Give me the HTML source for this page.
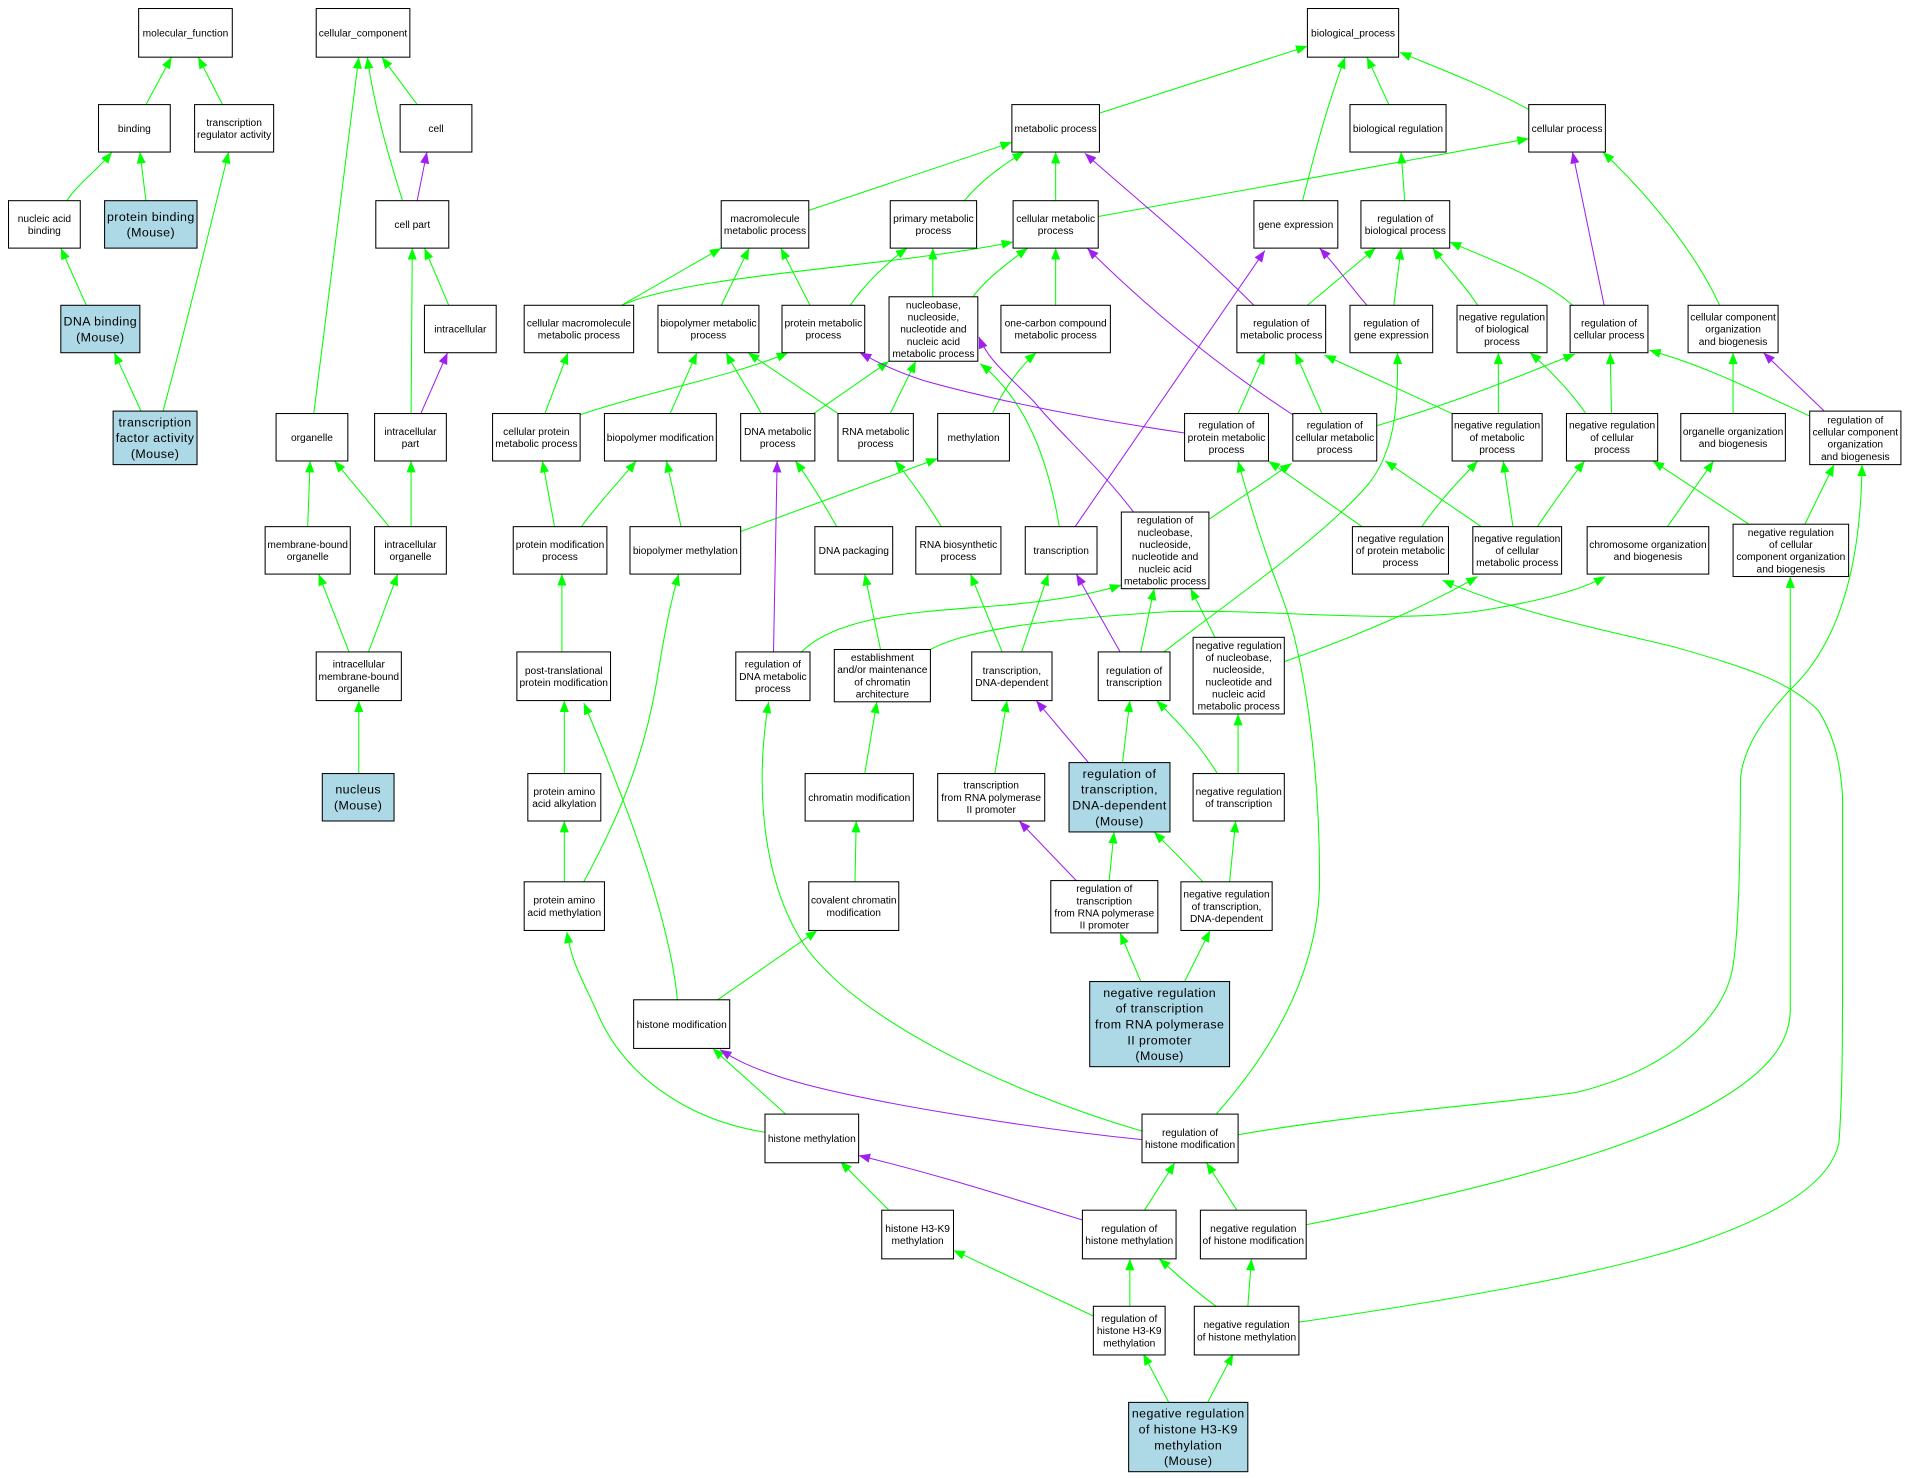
<!DOCTYPE html>
<html><head><meta charset="utf-8">
<style>
html,body{margin:0;padding:0;background:#fff;}
svg{display:block;}
.n rect{fill:#fff;stroke:#000;stroke-width:0.85;}
.n.b rect{fill:#add8e6;}
text{font-family:"Liberation Sans",Arial,sans-serif;font-size:8.4px;text-anchor:middle;fill:#000;}
.b text{font-size:10.2px;letter-spacing:0.35px;}
</style></head>
<body>
<svg width="1907" height="1479" viewBox="0 0 1568 1216" preserveAspectRatio="none" xmlns="http://www.w3.org/2000/svg">
<defs>
<marker id="ag" viewBox="0 0 10 8" refX="10" refY="4" markerWidth="10" markerHeight="7.5" markerUnits="userSpaceOnUse" orient="auto"><path d="M0,0L10,4L0,8z" fill="#00ff00"/></marker>
<marker id="ap" viewBox="0 0 10 8" refX="10" refY="4" markerWidth="10" markerHeight="7.5" markerUnits="userSpaceOnUse" orient="auto"><path d="M0,0L10,4L0,8z" fill="#a020f0"/></marker>
</defs>
<rect x="0" y="0" width="1568" height="1216" fill="#fff"/>
<g fill="none" stroke="#00ff00" stroke-width="0.85" marker-end="url(#ag)">
<path d="M120,86 L141,47"/>
<path d="M183,86 L163,47"/>
<path d="M55,165 C65,150 80,140 92,125"/>
<path d="M120,165 L115,125"/>
<path d="M71,251 L50,204"/>
<path d="M116,338 L94,290"/>
<path d="M134,338 C150,280 172,190 188,125"/>
<path d="M258,340 L295,47"/>
<path d="M331,165 C320,130 308,90 302,47"/>
<path d="M343,86 L314,47"/>
<path d="M338,340 L339,204"/>
<path d="M369,251 L349,204"/>
<path d="M253,433 L255,379"/>
<path d="M320,433 L275,379"/>
<path d="M338,433 L338,379"/>
<path d="M287,536 L262,472"/>
<path d="M303,536 L327,472"/>
<path d="M295,636 L295,576"/>
<path d="M904,93 L1075,38"/>
<path d="M1142,86 L1124,47"/>
<path d="M1257,90 C1220,70 1180,55 1151,43"/>
<path d="M1071,165 C1080,130 1090,90 1106,47"/>
<path d="M665,173 L832,117"/>
<path d="M793,165 C805,150 825,135 842,125"/>
<path d="M868,165 L868,125"/>
<path d="M903,178 L1257,114"/>
<path d="M1155,165 L1152,125"/>
<path d="M1414,251 C1395,210 1360,165 1318,125"/>
<path d="M511,251 L593,204"/>
<path d="M511,251 C570,225 730,220 833,199"/>
<path d="M593,251 L616,204"/>
<path d="M666,251 L642,204"/>
<path d="M699,251 C710,235 730,215 746,204"/>
<path d="M767,244 L767,204"/>
<path d="M800,244 C810,230 830,215 845,204"/>
<path d="M868,251 L868,204"/>
<path d="M1075,251 L1131,204"/>
<path d="M1146,251 L1152,204"/>
<path d="M1215,251 C1205,235 1190,220 1178,204"/>
<path d="M1293,251 C1270,230 1230,215 1192,199"/>
<path d="M477,341 C540,320 600,310 648,290"/>
<path d="M448,340 L467,290"/>
<path d="M551,340 L573,290"/>
<path d="M626,340 C615,320 605,305 597,290"/>
<path d="M689,340 L615,290"/>
<path d="M669,340 L731,297"/>
<path d="M732,340 L753,297"/>
<path d="M816,340 C825,320 840,300 852,290"/>
<path d="M871,433 C862,380 845,330 806,299"/>
<path d="M1018,340 L1040,290"/>
<path d="M1087,340 L1065,290"/>
<path d="M1194,340 L1089,292"/>
<path d="M1232,340 L1232,290"/>
<path d="M1132,350 C1200,330 1260,305 1295,291"/>
<path d="M1304,340 C1290,320 1270,300 1258,290"/>
<path d="M1325,340 L1324,290"/>
<path d="M1488,342 C1440,320 1400,300 1356,288"/>
<path d="M1425,340 L1425,290"/>
<path d="M957,536 C1010,495 1090,440 1126,397 C1145,372 1150,340 1149,290"/>
<path d="M456,433 L446,379"/>
<path d="M478,433 C495,410 510,395 523,379"/>
<path d="M560,433 L548,379"/>
<path d="M609,437 L771,377"/>
<path d="M688,433 C675,410 662,390 654,379"/>
<path d="M774,433 C760,410 745,390 736,379"/>
<path d="M1169,433 C1185,410 1200,395 1215,379"/>
<path d="M1120,433 L1043,379"/>
<path d="M1218,433 L1139,379"/>
<path d="M1244,433 L1236,379"/>
<path d="M1264,433 C1280,410 1290,395 1303,379"/>
<path d="M1371,433 L1409,379"/>
<path d="M1438,431 L1359,379"/>
<path d="M1484,431 L1508,382"/>
<path d="M994,427 L1062,381"/>
<path d="M462,536 L462,472"/>
<path d="M659,536 C690,505 760,503 820,498 C870,494 900,488 922,481"/>
<path d="M765,534 C800,515 880,508 960,503 C1050,500 1150,515 1230,500 C1270,493 1300,485 1320,474"/>
<path d="M724,534 L711,472"/>
<path d="M824,536 L798,472"/>
<path d="M840,536 L862,472"/>
<path d="M938,536 L949,484"/>
<path d="M999,524 L979,484"/>
<path d="M1056,544 C1110,525 1170,500 1215,474"/>
<path d="M711,636 L721,577"/>
<path d="M703,725 L704,675"/>
<path d="M818,636 L828,576"/>
<path d="M923,627 L929,576"/>
<path d="M1001,636 C985,610 965,590 951,576"/>
<path d="M1018,636 L1018,587"/>
<path d="M912,724 L916,684"/>
<path d="M989,725 C975,710 960,695 949,684"/>
<path d="M1011,725 L1016,675"/>
<path d="M938,807 L921,767"/>
<path d="M974,807 L995,765"/>
<path d="M590,822 L672,765"/>
<path d="M464,636 L464,576"/>
<path d="M464,725 L464,675"/>
<path d="M939,930 C820,895 700,835 660,775 C628,725 620,650 632,577"/>
<path d="M557,822 C552,770 528,690 480,578"/>
<path d="M629,931 C560,920 510,880 490,830 C476,800 470,790 466,766"/>
<path d="M480,725 C510,670 530,620 540,560 C548,510 553,490 558,472"/>
<path d="M1018,933 C1120,915 1240,907 1297,898 C1370,880 1415,840 1424,799 C1430,770 1431,700 1431,641 C1433,615 1450,590 1474,565 C1510,530 1530,470 1531,382"/>
<path d="M1068,1087 C1200,1068 1330,1045 1400,1020 C1470,995 1505,970 1512,940 C1515,900 1515,850 1515,805 L1515,655 C1513,620 1505,600 1495,584 C1470,560 1440,550 1377,532 C1320,518 1250,505 1186,477"/>
<path d="M1074,1007 C1200,982 1330,950 1400,912 C1450,885 1472,860 1472,830 L1472,474"/>
<path d="M1000,916 C1045,865 1085,800 1085,723 C1085,640 1075,540 1050,480 C1035,440 1025,405 1018,379"/>
<path d="M646,916 L586,862"/>
<path d="M731,995 L691,955"/>
<path d="M899,1082 L784,1028"/>
<path d="M929,1074 L929,1035"/>
<path d="M1000,1074 C980,1060 965,1045 953,1035"/>
<path d="M1026,1074 L1029,1035"/>
<path d="M941,995 L966,956"/>
<path d="M1017,995 L992,956"/>
<path d="M961,1153 L940,1113"/>
<path d="M993,1153 L1014,1113"/>
</g>
<g fill="none" stroke="#a020f0" stroke-width="0.85" marker-end="url(#ap)">
<path d="M343,165 L351,125"/>
<path d="M346,340 L368,290"/>
<path d="M1031,251 C980,200 930,160 892,126"/>
<path d="M1319,251 L1293,125"/>
<path d="M1063,341 C1000,300 940,250 894,204"/>
<path d="M1124,251 C1110,235 1100,220 1085,204"/>
<path d="M884,433 L1040,206"/>
<path d="M974,356 C900,345 820,330 760,313 C735,305 720,297 707,290"/>
<path d="M932,421 C905,385 870,355 850,330 C825,305 812,295 805,277"/>
<path d="M1500,338 L1450,290"/>
<path d="M636,536 L639,379"/>
<path d="M921,536 L885,472"/>
<path d="M895,627 L852,576"/>
<path d="M885,724 L838,675"/>
<path d="M939,937 C850,928 700,905 640,885 C610,875 600,868 592,863"/>
<path d="M890,1003 C840,988 780,968 706,950"/>
</g>

<g class="n"><rect x="114" y="7" width="77" height="40"/><text x="152.5" y="30">molecular_function</text></g>
<g class="n"><rect x="260" y="7" width="77" height="40"/><text x="298.5" y="30">cellular_component</text></g>
<g class="n"><rect x="1075" y="7" width="75" height="40"/><text x="1112.5" y="30">biological_process</text></g>
<g class="n"><rect x="81" y="86" width="59" height="39"/><text x="110.5" y="108.5">binding</text></g>
<g class="n"><rect x="160" y="86" width="65" height="39"/><text x="192.5" y="103.5">transcription</text><text x="192.5" y="113.5">regulator activity</text></g>
<g class="n"><rect x="329" y="86" width="59" height="39"/><text x="358.5" y="108.5">cell</text></g>
<g class="n"><rect x="832" y="86" width="72" height="39"/><text x="868" y="108.5">metabolic process</text></g>
<g class="n"><rect x="1110" y="86" width="79" height="39"/><text x="1149.5" y="108.5">biological regulation</text></g>
<g class="n"><rect x="1257" y="86" width="63" height="39"/><text x="1288.5" y="108.5">cellular process</text></g>
<g class="n"><rect x="7" y="165" width="59" height="39"/><text x="36.5" y="182.5">nucleic acid</text><text x="36.5" y="192.5">binding</text></g>
<g class="n b"><rect x="86" y="165" width="76" height="39"/><text x="124" y="181.6">protein binding</text><text x="124" y="194.6">(Mouse)</text></g>
<g class="n"><rect x="309" y="165" width="60" height="39"/><text x="339" y="187.5">cell part</text></g>
<g class="n"><rect x="593" y="165" width="72" height="39"/><text x="629" y="182.5">macromolecule</text><text x="629" y="192.5">metabolic process</text></g>
<g class="n"><rect x="732" y="165" width="71" height="39"/><text x="767.5" y="182.5">primary metabolic</text><text x="767.5" y="192.5">process</text></g>
<g class="n"><rect x="833" y="165" width="70" height="39"/><text x="868" y="182.5">cellular metabolic</text><text x="868" y="192.5">process</text></g>
<g class="n"><rect x="1031" y="165" width="69" height="39"/><text x="1065.5" y="187.5">gene expression</text></g>
<g class="n"><rect x="1119" y="165" width="73" height="39"/><text x="1155.5" y="182.5">regulation of</text><text x="1155.5" y="192.5">biological process</text></g>
<g class="n b"><rect x="50" y="251" width="65" height="39"/><text x="82.5" y="267.6">DNA binding</text><text x="82.5" y="280.6">(Mouse)</text></g>
<g class="n"><rect x="349" y="251" width="59" height="39"/><text x="378.5" y="273.5">intracellular</text></g>
<g class="n"><rect x="431" y="251" width="90" height="39"/><text x="476" y="268.5">cellular macromolecule</text><text x="476" y="278.5">metabolic process</text></g>
<g class="n"><rect x="541" y="251" width="83" height="39"/><text x="582.5" y="268.5">biopolymer metabolic</text><text x="582.5" y="278.5">process</text></g>
<g class="n"><rect x="643" y="251" width="68" height="39"/><text x="677" y="268.5">protein metabolic</text><text x="677" y="278.5">process</text></g>
<g class="n"><rect x="731" y="244" width="73" height="53"/><text x="767.5" y="253.5">nucleobase,</text><text x="767.5" y="263.5">nucleoside,</text><text x="767.5" y="273.5">nucleotide and</text><text x="767.5" y="283.5">nucleic acid</text><text x="767.5" y="293.5">metabolic process</text></g>
<g class="n"><rect x="823" y="251" width="90" height="39"/><text x="868" y="268.5">one-carbon compound</text><text x="868" y="278.5">metabolic process</text></g>
<g class="n"><rect x="1017" y="251" width="73" height="39"/><text x="1053.5" y="268.5">regulation of</text><text x="1053.5" y="278.5">metabolic process</text></g>
<g class="n"><rect x="1110" y="251" width="68" height="39"/><text x="1144" y="268.5">regulation of</text><text x="1144" y="278.5">gene expression</text></g>
<g class="n"><rect x="1198" y="251" width="74" height="39"/><text x="1235" y="263.5">negative regulation</text><text x="1235" y="273.5">of biological</text><text x="1235" y="283.5">process</text></g>
<g class="n"><rect x="1291" y="251" width="64" height="39"/><text x="1323" y="268.5">regulation of</text><text x="1323" y="278.5">cellular process</text></g>
<g class="n"><rect x="1388" y="251" width="74" height="39"/><text x="1425" y="263.5">cellular component</text><text x="1425" y="273.5">organization</text><text x="1425" y="283.5">and biogenesis</text></g>
<g class="n b"><rect x="93" y="338" width="69" height="44"/><text x="127.5" y="350.6">transcription</text><text x="127.5" y="363.6">factor activity</text><text x="127.5" y="376.6">(Mouse)</text></g>
<g class="n"><rect x="227" y="340" width="59" height="39"/><text x="256.5" y="362.5">organelle</text></g>
<g class="n"><rect x="308" y="340" width="59" height="39"/><text x="337.5" y="357.5">intracellular</text><text x="337.5" y="367.5">part</text></g>
<g class="n"><rect x="405" y="340" width="72" height="39"/><text x="441" y="357.5">cellular protein</text><text x="441" y="367.5">metabolic process</text></g>
<g class="n"><rect x="497" y="340" width="92" height="39"/><text x="543" y="362.5">biopolymer modification</text></g>
<g class="n"><rect x="609" y="340" width="61" height="39"/><text x="639.5" y="357.5">DNA metabolic</text><text x="639.5" y="367.5">process</text></g>
<g class="n"><rect x="689" y="340" width="62" height="39"/><text x="720" y="357.5">RNA metabolic</text><text x="720" y="367.5">process</text></g>
<g class="n"><rect x="771" y="340" width="59" height="39"/><text x="800.5" y="362.5">methylation</text></g>
<g class="n"><rect x="974" y="340" width="69" height="39"/><text x="1008.5" y="352.5">regulation of</text><text x="1008.5" y="362.5">protein metabolic</text><text x="1008.5" y="372.5">process</text></g>
<g class="n"><rect x="1063" y="340" width="69" height="39"/><text x="1097.5" y="352.5">regulation of</text><text x="1097.5" y="362.5">cellular metabolic</text><text x="1097.5" y="372.5">process</text></g>
<g class="n"><rect x="1194" y="340" width="74" height="39"/><text x="1231" y="352.5">negative regulation</text><text x="1231" y="362.5">of metabolic</text><text x="1231" y="372.5">process</text></g>
<g class="n"><rect x="1288" y="340" width="75" height="39"/><text x="1325.5" y="352.5">negative regulation</text><text x="1325.5" y="362.5">of cellular</text><text x="1325.5" y="372.5">process</text></g>
<g class="n"><rect x="1382" y="340" width="86" height="39"/><text x="1425" y="357.5">organelle organization</text><text x="1425" y="367.5">and biogenesis</text></g>
<g class="n"><rect x="1488" y="338" width="75" height="44"/><text x="1525.5" y="348">regulation of</text><text x="1525.5" y="358">cellular component</text><text x="1525.5" y="368">organization</text><text x="1525.5" y="378">and biogenesis</text></g>
<g class="n"><rect x="218" y="433" width="70" height="39"/><text x="253" y="450.5">membrane-bound</text><text x="253" y="460.5">organelle</text></g>
<g class="n"><rect x="308" y="433" width="59" height="39"/><text x="337.5" y="450.5">intracellular</text><text x="337.5" y="460.5">organelle</text></g>
<g class="n"><rect x="422" y="433" width="77" height="39"/><text x="460.5" y="450.5">protein modification</text><text x="460.5" y="460.5">process</text></g>
<g class="n"><rect x="518" y="433" width="91" height="39"/><text x="563.5" y="455.5">biopolymer methylation</text></g>
<g class="n"><rect x="670" y="433" width="64" height="39"/><text x="702" y="455.5">DNA packaging</text></g>
<g class="n"><rect x="753" y="433" width="70" height="39"/><text x="788" y="450.5">RNA biosynthetic</text><text x="788" y="460.5">process</text></g>
<g class="n"><rect x="843" y="433" width="59" height="39"/><text x="872.5" y="455.5">transcription</text></g>
<g class="n"><rect x="922" y="421" width="72" height="63"/><text x="958" y="430.5">regulation of</text><text x="958" y="440.5">nucleobase,</text><text x="958" y="450.5">nucleoside,</text><text x="958" y="460.5">nucleotide and</text><text x="958" y="470.5">nucleic acid</text><text x="958" y="480.5">metabolic process</text></g>
<g class="n"><rect x="1112" y="433" width="79" height="39"/><text x="1151.5" y="445.5">negative regulation</text><text x="1151.5" y="455.5">of protein metabolic</text><text x="1151.5" y="465.5">process</text></g>
<g class="n"><rect x="1211" y="433" width="73" height="39"/><text x="1247.5" y="445.5">negative regulation</text><text x="1247.5" y="455.5">of cellular</text><text x="1247.5" y="465.5">metabolic process</text></g>
<g class="n"><rect x="1305" y="433" width="100" height="39"/><text x="1355" y="450.5">chromosome organization</text><text x="1355" y="460.5">and biogenesis</text></g>
<g class="n"><rect x="1425" y="431" width="95" height="43"/><text x="1472.5" y="440.5">negative regulation</text><text x="1472.5" y="450.5">of cellular</text><text x="1472.5" y="460.5">component organization</text><text x="1472.5" y="470.5">and biogenesis</text></g>
<g class="n"><rect x="260" y="536" width="70" height="40"/><text x="295" y="549">intracellular</text><text x="295" y="559">membrane-bound</text><text x="295" y="569">organelle</text></g>
<g class="n"><rect x="425" y="536" width="77" height="40"/><text x="463.5" y="554">post-translational</text><text x="463.5" y="564">protein modification</text></g>
<g class="n"><rect x="605" y="536" width="61" height="40"/><text x="635.5" y="549">regulation of</text><text x="635.5" y="559">DNA metabolic</text><text x="635.5" y="569">process</text></g>
<g class="n"><rect x="686" y="534" width="79" height="43"/><text x="725.5" y="543.5">establishment</text><text x="725.5" y="553.5">and/or maintenance</text><text x="725.5" y="563.5">of chromatin</text><text x="725.5" y="573.5">architecture</text></g>
<g class="n"><rect x="799" y="536" width="66" height="40"/><text x="832" y="554">transcription,</text><text x="832" y="564">DNA-dependent</text></g>
<g class="n"><rect x="903" y="536" width="59" height="40"/><text x="932.5" y="554">regulation of</text><text x="932.5" y="564">transcription</text></g>
<g class="n"><rect x="981" y="524" width="75" height="63"/><text x="1018.5" y="533.5">negative regulation</text><text x="1018.5" y="543.5">of nucleobase,</text><text x="1018.5" y="553.5">nucleoside,</text><text x="1018.5" y="563.5">nucleotide and</text><text x="1018.5" y="573.5">nucleic acid</text><text x="1018.5" y="583.5">metabolic process</text></g>
<g class="n b"><rect x="265" y="636" width="59" height="39"/><text x="294.5" y="652.6">nucleus</text><text x="294.5" y="665.6">(Mouse)</text></g>
<g class="n"><rect x="434" y="636" width="60" height="39"/><text x="464" y="653.5">protein amino</text><text x="464" y="663.5">acid alkylation</text></g>
<g class="n"><rect x="662" y="636" width="89" height="39"/><text x="706.5" y="658.5">chromatin modification</text></g>
<g class="n"><rect x="771" y="636" width="88" height="39"/><text x="815" y="648.5">transcription</text><text x="815" y="658.5">from RNA polymerase</text><text x="815" y="668.5">II promoter</text></g>
<g class="n b"><rect x="879" y="627" width="83" height="57"/><text x="920.5" y="639.6">regulation of</text><text x="920.5" y="652.6">transcription,</text><text x="920.5" y="665.6">DNA-dependent</text><text x="920.5" y="678.6">(Mouse)</text></g>
<g class="n"><rect x="981" y="636" width="75" height="39"/><text x="1018.5" y="653.5">negative regulation</text><text x="1018.5" y="663.5">of transcription</text></g>
<g class="n"><rect x="431" y="725" width="66" height="40"/><text x="464" y="743">protein amino</text><text x="464" y="753">acid methylation</text></g>
<g class="n"><rect x="665" y="725" width="74" height="40"/><text x="702" y="743">covalent chromatin</text><text x="702" y="753">modification</text></g>
<g class="n"><rect x="864" y="724" width="88" height="43"/><text x="908" y="733.5">regulation of</text><text x="908" y="743.5">transcription</text><text x="908" y="753.5">from RNA polymerase</text><text x="908" y="763.5">II promoter</text></g>
<g class="n"><rect x="971" y="725" width="75" height="40"/><text x="1008.5" y="738">negative regulation</text><text x="1008.5" y="748">of transcription,</text><text x="1008.5" y="758">DNA-dependent</text></g>
<g class="n b"><rect x="896" y="807" width="115" height="70"/><text x="953.5" y="819.6">negative regulation</text><text x="953.5" y="832.6">of transcription</text><text x="953.5" y="845.6">from RNA polymerase</text><text x="953.5" y="858.6">II promoter</text><text x="953.5" y="871.6">(Mouse)</text></g>
<g class="n"><rect x="521" y="822" width="79" height="40"/><text x="560.5" y="845">histone modification</text></g>
<g class="n"><rect x="629" y="916" width="77" height="40"/><text x="667.5" y="939">histone methylation</text></g>
<g class="n"><rect x="939" y="916" width="79" height="40"/><text x="978.5" y="934">regulation of</text><text x="978.5" y="944">histone modification</text></g>
<g class="n"><rect x="725" y="995" width="59" height="40"/><text x="754.5" y="1013">histone H3-K9</text><text x="754.5" y="1023">methylation</text></g>
<g class="n"><rect x="890" y="995" width="77" height="40"/><text x="928.5" y="1013">regulation of</text><text x="928.5" y="1023">histone methylation</text></g>
<g class="n"><rect x="987" y="995" width="87" height="40"/><text x="1030.5" y="1013">negative regulation</text><text x="1030.5" y="1023">of histone modification</text></g>
<g class="n"><rect x="899" y="1074" width="59" height="40"/><text x="928.5" y="1087">regulation of</text><text x="928.5" y="1097">histone H3-K9</text><text x="928.5" y="1107">methylation</text></g>
<g class="n"><rect x="982" y="1074" width="86" height="40"/><text x="1025" y="1092">negative regulation</text><text x="1025" y="1102">of histone methylation</text></g>
<g class="n b"><rect x="928" y="1153" width="98" height="57"/><text x="977" y="1165.6">negative regulation</text><text x="977" y="1178.6">of histone H3-K9</text><text x="977" y="1191.6">methylation</text><text x="977" y="1204.6">(Mouse)</text></g>
</svg>
</body></html>
